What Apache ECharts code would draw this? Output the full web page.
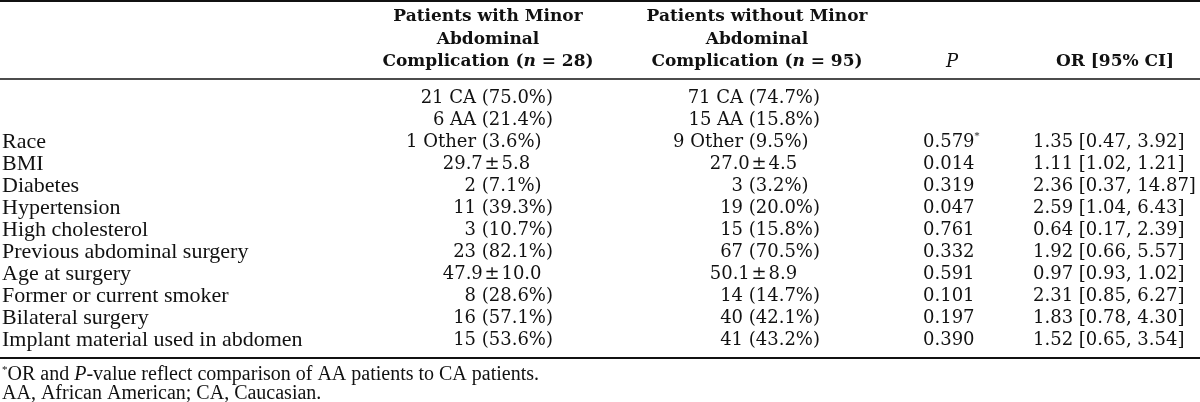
<!DOCTYPE html>
<html>
<head>
<meta charset="utf-8">
<script src="https://cdn.jsdelivr.net/npm/echarts@6/dist/echarts.min.js"></script>
<style>html,body{margin:0;padding:0;background:#fff;}#c{width:1200px;height:402px;}</style>
</head>
<body>
<div id="c"></div>
<script>
// ---------- DATA ----------
const rowLabels = ['', '', 'Race', 'BMI', 'Diabetes', 'Hypertension', 'High cholesterol',
  'Previous abdominal surgery', 'Age at surgery', 'Former or current smoker',
  'Bilateral surgery', 'Implant material used in abdomen'];
const withMinor = ['21 CA (75.0%)', '6 AA (21.4%)', '1 Other (3.6%)', '29.7±5.8', '2 (7.1%)',
  '11 (39.3%)', '3 (10.7%)', '23 (82.1%)', '47.9±10.0', '8 (28.6%)', '16 (57.1%)', '15 (53.6%)'];
const withoutMinor = ['71 CA (74.7%)', '15 AA (15.8%)', '9 Other (9.5%)', '27.0±4.5', '3 (3.2%)',
  '19 (20.0%)', '15 (15.8%)', '67 (70.5%)', '50.1±8.9', '14 (14.7%)', '40 (42.1%)', '41 (43.2%)'];
const pValues = ['', '', '0.579*', '0.014', '0.319', '0.047', '0.761', '0.332', '0.591', '0.101', '0.197', '0.390'];
const orCI = ['', '', '1.35 [0.47, 3.92]', '1.11 [1.02, 1.21]', '2.36 [0.37, 14.87]', '2.59 [1.04, 6.43]',
  '0.64 [0.17, 2.39]', '1.92 [0.66, 5.57]', '0.97 [0.93, 1.02]', '2.31 [0.85, 6.27]',
  '1.83 [0.78, 4.30]', '1.52 [0.65, 3.54]'];
const headWith = ['Patients with Minor', 'Abdominal', 'Complication (n = 28)'];
const headWithout = ['Patients without Minor', 'Abdominal', 'Complication (n = 95)'];
const headP = 'P';
const headOR = 'OR [95% CI]';
const footnote1 = 'OR and P-value reflect comparison of AA patients to CA patients.';
const footnote2 = 'AA, African American; CA, Caucasian.';

// ---------- LAYOUT ----------
const INK = '#111111';
const NUM_FONT = 'DejaVu Serif';
const LBL_FONT = 'Liberation Serif';
const cols = {
  label: { x: 2, align: 'left' },
  with: { x: 553, align: 'right', head: 488 },
  without: { x: 820, align: 'right', head: 757 },
  p: { x: 923, align: 'left', head: 952 },
  or: { x: 1033, align: 'left', head: 1115 }
};
// trailing figure-space count to mimic the typeset alignment
const padWith = [0, 0, 1, 2, 1, 0, 0, 0, 1, 0, 0, 0];
const padWithout = [0, 0, 1, 2, 1, 0, 0, 0, 2, 0, 0, 0];

function fmtPM(s) { return s.replace('±', '\u200A±\u200A'); }

function textSeries(name, col, values, font, size, pads, rich) {
  const data = [];
  values.forEach((v, i) => {
    if (v === '') return;
    let t = fmtPM(v);
    if (pads) t = t + '\u2007'.repeat(pads[i]);
    data.push({ value: [col.x, i], label: { formatter: () => {
      if (rich && t.endsWith('*')) return '{n|' + t.slice(0, -1) + '}{sup|*}';
      return rich ? '{n|' + t + '}' : t;
    } } });
  });
  return {
    name, type: 'scatter', symbolSize: 0, silent: true, data,
    itemStyle: { opacity: 1 },
    label: {
      show: true, position: 'inside', align: col.align, verticalAlign: 'middle',
      color: INK, fontFamily: font, fontSize: size,
      rich: rich ? {
        n: { fontFamily: font, fontSize: size, color: INK, lineHeight: 22 },
        sup: { fontFamily: font, fontSize: 10, color: INK, verticalAlign: 'top' }
      } : undefined
    }
  };
}

const HS = 17;
const hdrRich = {
  b: { fontFamily: NUM_FONT, fontWeight: 'bold', fontSize: HS, fill: INK },
  bi: { fontFamily: NUM_FONT, fontWeight: 'bold', fontStyle: 'italic', fontSize: HS, fill: INK }
};
function hdrText(x, y, str) {
  const m = str.match(/^(.*\()n( = .*)$/);
  const text = m ? '{b|' + m[1] + '}{bi|n}{b|' + m[2] + '}' : '{b|' + str + '}';
  return { type: 'text', x, y, silent: true,
    style: { text, rich: hdrRich, align: 'center', verticalAlign: 'middle', fill: INK } };
}
const headY = [17, 40, 62];
const graphics = [];
headWith.forEach((s, i) => graphics.push(hdrText(cols.with.head, headY[i], s)));
headWithout.forEach((s, i) => graphics.push(hdrText(cols.without.head, headY[i], s)));
graphics.push({ type: 'text', x: cols.p.head, y: headY[2], silent: true,
  style: { text: headP, font: 'italic 18px "' + NUM_FONT + '"', fill: INK, align: 'center', verticalAlign: 'middle' } });
graphics.push(hdrText(cols.or.head, headY[2], headOR));
// rules
[[1, 2], [79, 1.4], [358, 2]].forEach(([y, w]) => graphics.push({
  type: 'line', silent: true, shape: { x1: 0, y1: y, x2: 1200, y2: y },
  style: { stroke: INK, lineWidth: w }
}));
// footnotes
const FS = 20;
const fnRich = {
  r: { fontFamily: LBL_FONT, fontSize: FS, fill: INK, lineHeight: 20 },
  i: { fontFamily: LBL_FONT, fontSize: FS, fontStyle: 'italic', fill: INK, lineHeight: 20 },
  s: { fontFamily: LBL_FONT, fontSize: 11, fill: INK, verticalAlign: 'top' }
};
const fn1 = footnote1.split('P-value');
graphics.push({ type: 'text', x: 2, y: 375, silent: true,
  style: { text: '{s|*}{r|' + fn1[0] + '}{i|P}{r|-value' + fn1[1] + '}', rich: fnRich, align: 'left', verticalAlign: 'middle' } });
graphics.push({ type: 'text', x: 2, y: 394, silent: true,
  style: { text: '{r|' + footnote2 + '}', rich: fnRich, align: 'left', verticalAlign: 'middle' } });

const chart = echarts.init(document.getElementById('c'), null, { renderer: 'canvas' });
chart.setOption({
  animation: false,
  backgroundColor: '#fff',
  grid: { left: 0, right: 0, top: 87, height: 264 },
  xAxis: { type: 'value', min: 0, max: 1200, show: false },
  yAxis: { type: 'category', inverse: true, data: rowLabels.map((_, i) => i), show: false, boundaryGap: true },
  series: [
    textSeries('label', cols.label, rowLabels, LBL_FONT, 22, null, false),
    textSeries('with', cols.with, withMinor, NUM_FONT, 18, padWith, false),
    textSeries('without', cols.without, withoutMinor, NUM_FONT, 18, padWithout, false),
    textSeries('p', cols.p, pValues, NUM_FONT, 18, null, true),
    textSeries('or', cols.or, orCI, NUM_FONT, 18, null, false)
  ],
  graphic: graphics
});
</script>
</body>
</html>
